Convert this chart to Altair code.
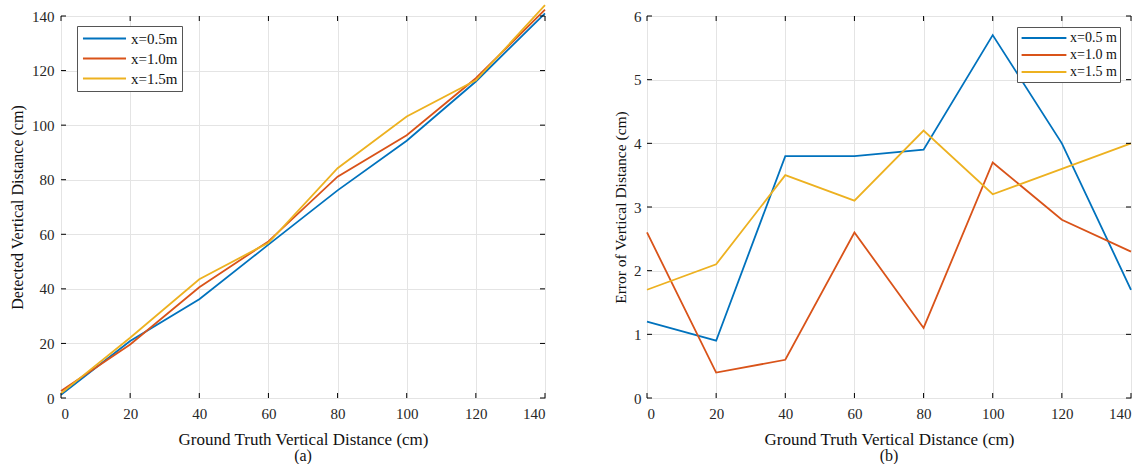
import altair as alt
import pandas as pd

x_vals = [0, 20, 40, 60, 80, 100, 120, 140]

det_05 = [1.2, 20.9, 36.2, 56.2, 76.1, 94.3, 116.0, 141.0]
det_10 = [2.6, 19.6, 40.6, 57.4, 81.1, 96.3, 117.2, 142.3]
det_15 = [1.7, 22.1, 43.5, 56.9, 84.2, 103.2, 116.4, 144.0]

err_05 = [1.2, 0.9, 3.8, 3.8, 3.9, 5.7, 4.0, 1.7]
err_10 = [2.6, 0.4, 0.6, 2.6, 1.1, 3.7, 2.8, 2.3]
err_15 = [1.7, 2.1, 3.5, 3.1, 4.2, 3.2, 3.6, 4.0]

labels_a = ["x=0.5m", "x=1.0m", "x=1.5m"]
labels_b = ["x=0.5 m", "x=1.0 m", "x=1.5 m"]
colors = ["#0072BD", "#D95319", "#EDB120"]

x_ticks = [0, 20, 40, 60, 80, 100, 120, 140]
y_ticks_a = [0, 20, 40, 60, 80, 100, 120, 140]
y_ticks_b = [0, 1, 2, 3, 4, 5, 6]

FONT = "Liberation Serif"
W, H = 484, 382


def long_df(series, labels):
    rows = []
    for lab, ys in zip(labels, series):
        for x, y in zip(x_vals, ys):
            rows.append({"x": x, "y": y, "series": lab})
    return pd.DataFrame(rows)


def panel(df, labels, ydomain, yticks, ytitle, ytitle_size, ytitle_pad, ylab_pad,
          sub, leg):
    xs = alt.Scale(domain=[0, 140], nice=False, zero=False)
    ys = alt.Scale(domain=ydomain, nice=False, zero=False)
    xax = alt.Axis(values=x_ticks, title="Ground Truth Vertical Distance (cm)",
                   format="d", labelPadding=8, titleFontSize=17, titlePadding=10)
    yax = alt.Axis(values=yticks, title=ytitle, format="d",
                   labelPadding=ylab_pad, titleFontSize=ytitle_size,
                   titlePadding=ytitle_pad)
    lines = alt.Chart(df).mark_line(strokeWidth=1.8).encode(
        x=alt.X("x:Q", scale=xs, axis=xax),
        y=alt.Y("y:Q", scale=ys, axis=yax),
        color=alt.Color("series:N", sort=labels,
                        scale=alt.Scale(domain=labels, range=colors),
                        legend=alt.Legend(title=None, orient="none",
                                          legendX=leg["x"], legendY=leg["y"],
                                          symbolType=leg["path"],
                                          symbolSize=leg["size"],
                                          symbolOffset=leg["soff"],
                                          labelOffset=leg["loff"],
                                          symbolStrokeWidth=2,
                                          labelFont=FONT,
                                          labelFontSize=leg["font"],
                                          labelColor="#111",
                                          strokeColor="#555", fillColor="white",
                                          padding=leg["pad"],
                                          rowPadding=leg["rowpad"])),
    )
    tdx = pd.DataFrame({"t": x_ticks})
    tdy = pd.DataFrame({"t": yticks})
    tk_x_bot = alt.Chart(tdx).mark_rule(color="black").encode(
        x=alt.X("t:Q", scale=xs, axis=xax), y=alt.value(H - 5), y2=alt.value(H))
    tk_x_top = alt.Chart(tdx).mark_rule(color="black").encode(
        x=alt.X("t:Q", scale=xs, axis=xax), y=alt.value(0), y2=alt.value(5))
    tk_y_l = alt.Chart(tdy).mark_rule(color="black").encode(
        y=alt.Y("t:Q", scale=ys, axis=yax), x=alt.value(0), x2=alt.value(5))
    tk_y_r = alt.Chart(tdy).mark_rule(color="black").encode(
        y=alt.Y("t:Q", scale=ys, axis=yax), x=alt.value(W - 5), x2=alt.value(W))
    return alt.layer(lines, tk_x_bot, tk_x_top, tk_y_l, tk_y_r).properties(
        width=W, height=H,
        title=alt.TitleParams(sub, orient="bottom", font=FONT, fontSize=16,
                              fontWeight="normal", color="#111", offset=1),
    )


leg_a = dict(x=16, y=10, path="M-2.87,0H2.87", size=225, soff=15, loff=18,
             font=15, pad=4, rowpad=3)
leg_b = dict(x=370, y=11, path="M-3.2,0H3.2", size=196, soff=16, loff=18,
             font=14, pad=3, rowpad=2)

left = panel(long_df([det_05, det_10, det_15], labels_a), labels_a, [0, 140],
             y_ticks_a, "Detected Vertical Distance  (cm)", 16, 6, 7, "(a)", leg_a)
right = panel(long_df([err_05, err_10, err_15], labels_b), labels_b, [0, 6],
              y_ticks_b, "Error of Vertical Distance (cm)", 15.5, 5, 6, "(b)", leg_b)

chart = alt.hconcat(left, right, spacing=63).resolve_scale(color="independent").properties(
    padding={"left": 9, "top": 0, "right": 0, "bottom": 0},
    background="white",
).configure_view(stroke="#222", strokeWidth=1).configure_axis(
    grid=True, gridColor="#e4e4e4", tickSize=0, domain=False,
    labelFont=FONT, labelFontSize=15, labelColor="#262626",
    titleFont=FONT, titleFontWeight="normal", titleColor="#111",
)

chart.save("out.html", embed_options={"renderer": "svg", "actions": False})
